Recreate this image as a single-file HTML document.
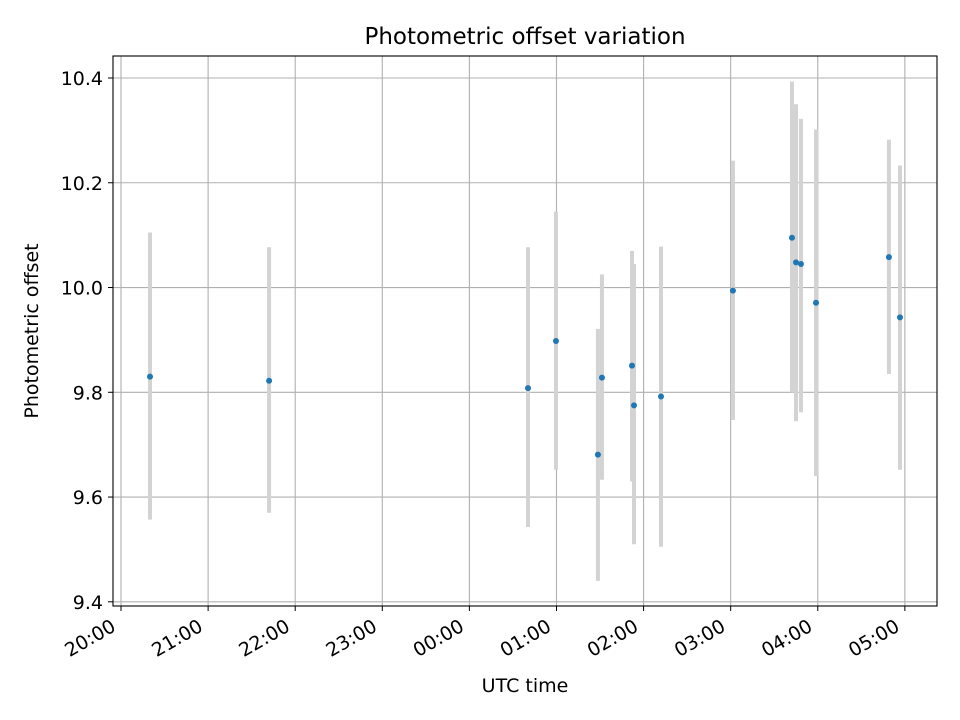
<!DOCTYPE html>
<html><head><meta charset="utf-8"><style>
body{margin:0;background:#fff;}
svg{display:block;font-family:"DejaVu Sans","Liberation Sans",sans-serif;}
</style></head><body>
<svg id="chart" width="960" height="720" viewBox="0 0 960 720">
<rect width="960" height="720" fill="#fff"/>
<g id="grid"></g>
<g id="bars"></g>
<g id="pts"></g>
<g id="axes"></g>
<text x="525" y="44" text-anchor="middle" font-size="23">Photometric offset variation</text>
<text x="525" y="692" text-anchor="middle" font-size="19">UTC time</text>
<text transform="translate(38,331) rotate(-90)" text-anchor="middle" font-size="19">Photometric offset</text>
</svg>
<script>
// hours after 20:00 UTC
const times=[0.333,1.70,4.673,4.994,5.476,5.522,5.867,5.89,6.2,7.026,7.704,7.75,7.807,7.98,8.817,8.944];
const values=[9.83,9.822,9.808,9.898,9.681,9.828,9.851,9.775,9.792,9.994,10.095,10.048,10.045,9.971,10.058,9.943];
const errLow=[9.557,9.57,9.543,9.652,9.44,9.633,9.63,9.51,9.505,9.747,9.8,9.745,9.762,9.64,9.835,9.652];
const errHigh=[10.105,10.077,10.077,10.145,9.921,10.025,10.07,10.045,10.078,10.242,10.393,10.35,10.322,10.302,10.282,10.233];
const yTicks=[9.4,9.6,9.8,10.0,10.2,10.4];
const xTicks=[0,1,2,3,4,5,6,7,8,9];
const xTickLabels=["20:00","21:00","22:00","23:00","00:00","01:00","02:00","03:00","04:00","05:00"];

const L=113,R=937,T=56,B=606;
const xMin=-0.092,xMax=9.369,yMin=9.392,yMax=10.442;
const X=h=>L+(h-xMin)/(xMax-xMin)*(R-L);
const Y=v=>B-(v-yMin)/(yMax-yMin)*(B-T);
const NS="http://www.w3.org/2000/svg";
function mk(tag,attrs,parent){const e=document.createElementNS(NS,tag);for(const k in attrs)e.setAttribute(k,attrs[k]);parent.appendChild(e);return e;}
const grid=document.getElementById('grid'),bars=document.getElementById('bars'),pts=document.getElementById('pts'),axes=document.getElementById('axes');

yTicks.forEach((v,i)=>{
 const y=Y(v);
 const g=mk('line',{x1:L,x2:R,y1:y,y2:y,stroke:'#b0b0b0','stroke-width':1.1},grid);
 
 
 mk('line',{x1:L-5,x2:L,y1:y,y2:y,stroke:'#000','stroke-width':1},axes);
 const t=mk('text',{x:L-10,y:y+7,'text-anchor':'end','font-size':19},axes);
 t.textContent=v.toFixed(1);
 
 
});
xTicks.forEach((h,i)=>{
 const x=X(h);
 const g=mk('line',{x1:x,x2:x,y1:T,y2:B,stroke:'#b0b0b0','stroke-width':1.1},grid);
 
 
 mk('line',{x1:x,x2:x,y1:B,y2:B+5,stroke:'#000','stroke-width':1},axes);
 const t=mk('text',{transform:`translate(${x-4},${B+24}) rotate(-30)`,'text-anchor':'end','font-size':19},axes);
 t.textContent=xTickLabels[i];
 
 
});
times.forEach((h,i)=>{
 const x=X(h);
 const b=mk('line',{x1:x,x2:x,y1:Y(errLow[i]),y2:Y(errHigh[i]),stroke:'#d3d3d3','stroke-width':4},bars);
 
 
 const c=mk('circle',{cx:x,cy:Y(values[i]),r:3,fill:'#1f77b4'},pts);
 
 
});
const f=mk('rect',{x:L,y:T,width:R-L,height:B-T,fill:'none',stroke:'#000','stroke-width':1.1},axes);


</script>
</body></html>
